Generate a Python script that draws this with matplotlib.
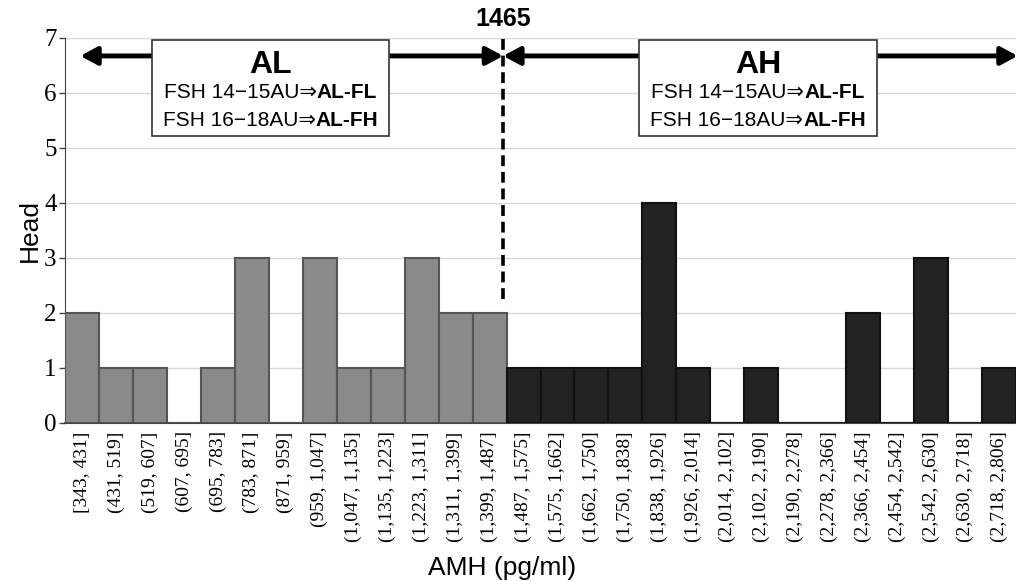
import matplotlib.pyplot as plt

bins = ["[343, 431]", "(431, 519]", "(519, 607]", "(607, 695]", "(695, 783]",
        "(783, 871]", "(871, 959]", "(959, 1,047]", "(1,047, 1,135]",
        "(1,135, 1,223]", "(1,223, 1,311]", "(1,311, 1,399]", "(1,399, 1,487]",
        "(1,487, 1,575]", "(1,575, 1,662]", "(1,662, 1,750]", "(1,750, 1,838]",
        "(1,838, 1,926]", "(1,926, 2,014]", "(2,014, 2,102]", "(2,102, 2,190]",
        "(2,190, 2,278]", "(2,278, 2,366]", "(2,366, 2,454]", "(2,454, 2,542]",
        "(2,542, 2,630]", "(2,630, 2,718]", "(2,718, 2,806]"]
counts = [2, 1, 1, 0, 1, 3, 0, 3, 1, 1, 3, 2, 2,
          1, 1, 1, 1, 4, 1, 0, 1, 0, 0, 2, 0, 3, 0, 1]
n_low = 13  # bins below the 1465 cut-off (AL group)
cutoff_label = "1465"
groups = ["AL", "AH"]
box_lines = [("FSH 14\u221215AU\u21d2", "AL-FL"), ("FSH 16\u221218AU\u21d2", "AL-FH")]

serif = "Liberation Serif"
sans = "Liberation Sans"

fig = plt.figure(figsize=(10.16, 5.81), dpi=100)
ax = fig.add_axes([0.064, 0.272, 0.936, 0.663])

x = list(range(len(bins)))
colors = ["#8a8a8a" if i < n_low else "#222222" for i in x]
edges = ["#555555" if i < n_low else "#111111" for i in x]
ax.bar(x, counts, width=1.0, color=colors, edgecolor=edges, linewidth=1.5, zorder=3)

ax.set_xlim(-0.5, len(bins) - 0.5)
ax.set_ylim(0, 7)
ax.set_yticks(range(0, 8))
ax.yaxis.grid(True, color="#d9d9d9", linewidth=1, zorder=0)
ax.set_axisbelow(True)
ax.set_xticks(x)
ax.set_xticklabels(bins, rotation=90, fontfamily=serif, fontsize=14)
for lab in ax.get_yticklabels():
    lab.set_fontfamily(serif)
    lab.set_fontsize(18)
ax.tick_params(axis="x", length=0, pad=6)
ax.tick_params(axis="y", length=4, width=1, color="#444444", pad=2)
for s in ["top", "right"]:
    ax.spines[s].set_visible(False)
ax.spines["left"].set_color("#444444")
ax.spines["bottom"].set_color("#444444")
ax.spines["bottom"].set_linewidth(1.5)

ax.set_ylabel("Head", fontfamily=sans, fontsize=19)
ax.yaxis.set_label_coords(-0.024, 0.5)
ax.set_xlabel("AMH (pg/ml)", fontfamily=sans, fontsize=19)
ax.xaxis.set_label_coords(0.46, -0.345)

# cut-off line
cx = n_low - 0.6
ax.plot([cx, cx], [2.25, 7], color="black", linestyle=(0, (3, 1.6)), linewidth=2.6,
        clip_on=False, zorder=5)
ax.text(cx, 7.12, cutoff_label, ha="center", va="bottom", fontfamily=sans,
        fontsize=18, fontweight="bold")

# range arrows
ay = 6.67
arrow_kw = dict(arrowstyle="-|>,head_length=0.5,head_width=0.27", color="black",
                lw=3.5, mutation_scale=20, shrinkA=0, shrinkB=0)
centers = [5.55, 19.9]
ax.annotate("", xy=(-0.05, ay), xytext=(centers[0], ay), arrowprops=arrow_kw, zorder=4)
ax.annotate("", xy=(cx, ay), xytext=(centers[0], ay), arrowprops=arrow_kw, zorder=4)
ax.annotate("", xy=(cx, ay), xytext=(centers[1], ay), arrowprops=arrow_kw, zorder=4)
ax.annotate("", xy=(len(bins) - 0.45, ay), xytext=(centers[1], ay), arrowprops=arrow_kw,
            zorder=4, annotation_clip=False)

# labelled boxes
pairs = []
for name, bx in zip(groups, centers):
    half = 3.5
    ax.add_patch(plt.Rectangle((bx - half, 5.22), 2 * half, 1.74, facecolor="white",
                               edgecolor="#333333", linewidth=1.2, zorder=6))
    ax.text(bx, 6.5, name, ha="center", va="center", fontfamily=sans,
            fontsize=23, fontweight="bold", zorder=7)
    for yy, (left, right) in zip([6.0, 5.49], box_lines):
        t1 = ax.text(bx, yy, left, ha="right", va="center",
                     fontfamily=[sans, "DejaVu Sans"], fontsize=15, zorder=7)
        t2 = ax.text(bx, yy, right, ha="left", va="center", fontfamily=sans,
                     fontsize=15, fontweight="bold", zorder=7)
        pairs.append((t1, t2))

# center each two-part line inside its box
fig.canvas.draw()
r = fig.canvas.get_renderer()
inv = ax.transData.inverted()
for t1, t2 in pairs:
    w1 = t1.get_window_extent(r).width
    w2 = t2.get_window_extent(r).width
    shift_px = (w1 - w2) / 2
    x0, y0 = t1.get_position()
    px = ax.transData.transform((x0, y0))
    nx = inv.transform((px[0] + shift_px, px[1]))[0]
    t1.set_x(nx)
    t2.set_x(nx)

fig.savefig("out.png", dpi=100)
